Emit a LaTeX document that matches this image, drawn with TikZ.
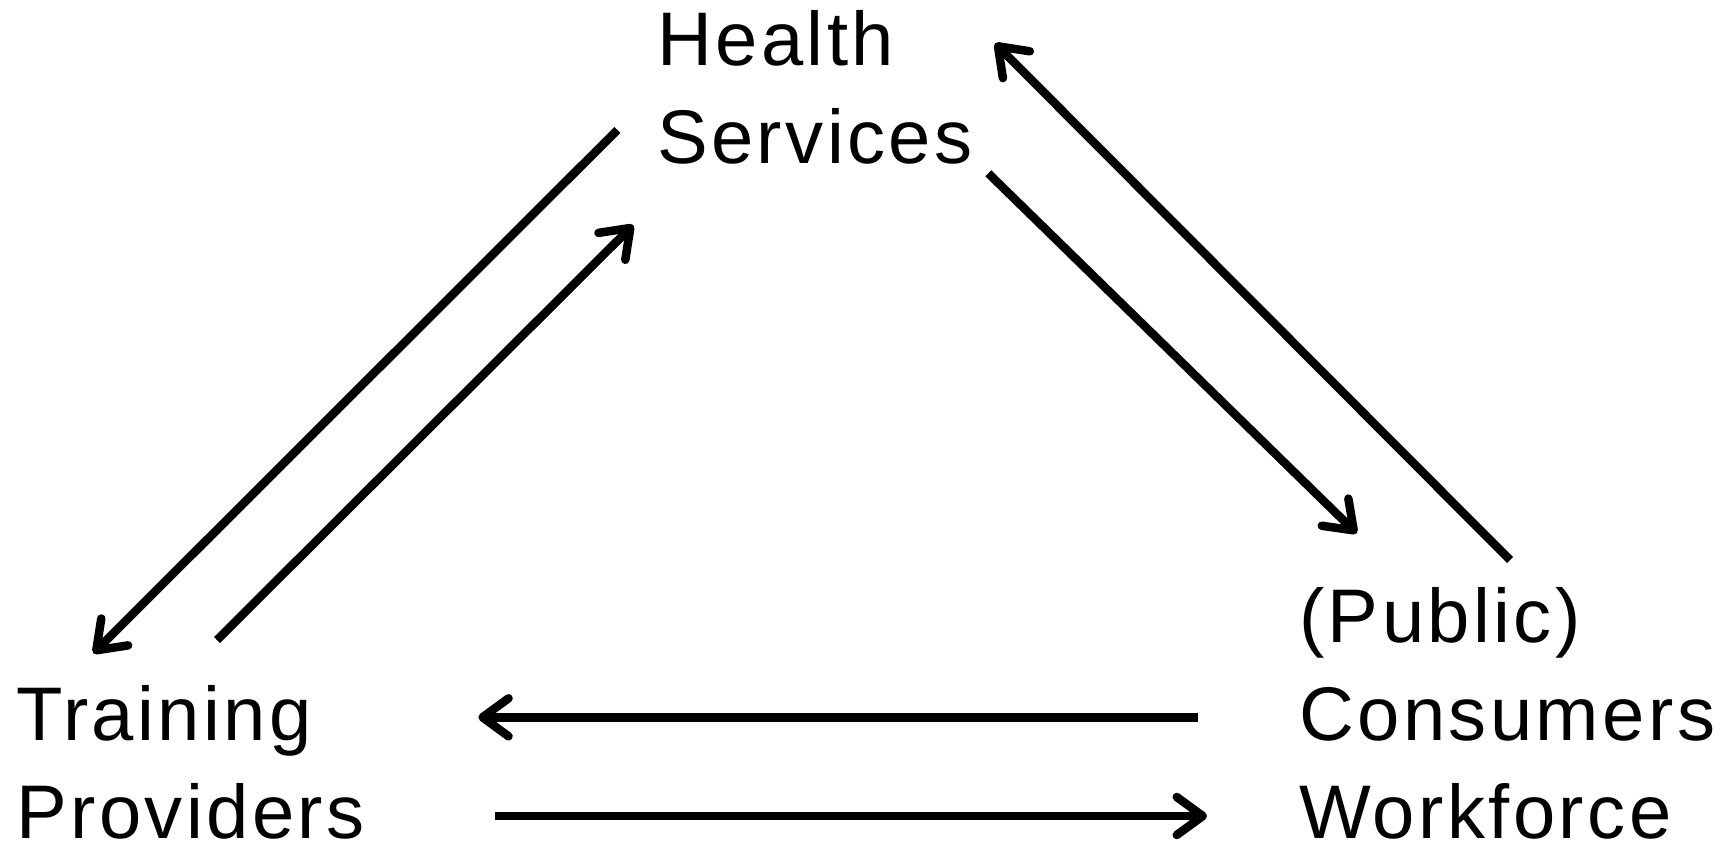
\documentclass[tikz,border=0pt]{standalone}
\usepackage{fontspec}
\setmainfont{Liberation Sans}[LetterSpace=4.5]
\usetikzlibrary{arrows.meta}
\begin{document}
\begin{tikzpicture}[x=1pt,y=-1pt,
  lbl/.style={anchor=base west, align=left, inner sep=0pt, font=\fontsize{76}{98}\selectfont},
  link/.style={line width=8.5pt, -{Straight Barb[length=26pt,width=38pt,round]}}]
\useasboundingbox (0,0) rectangle (1726,845);
\node[lbl] (hs) at (657,164) {Health\\Services};
\node[lbl] (cw) at (1299,838) {(Public)\\Consumers\\Workforce};
\node[lbl] (tp) at (16,838) {Training\\Providers};
\coordinate (a1) at (617.3,130);
\coordinate (a2) at (93.3,653.3);
\coordinate (b1) at (217,640);
\coordinate (b2) at (633.3,225);
\coordinate (c1) at (988.3,173.3);
\coordinate (c2) at (1356.7,533.3);
\coordinate (d1) at (1510,560);
\coordinate (d2) at (995,43.3);
\coordinate (e1) at (1198,717.3);
\coordinate (e2) at (478.3,717.3);
\coordinate (f1) at (495,816);
\coordinate (f2) at (1207,816);
\draw[link] (a1) -- (a2);
\draw[link] (b1) -- (b2);
\draw[link] (c1) -- (c2);
\draw[link] (d1) -- (d2);
\draw[link] (e1) -- (e2);
\draw[link] (f1) -- (f2);
\end{tikzpicture}
\end{document}
